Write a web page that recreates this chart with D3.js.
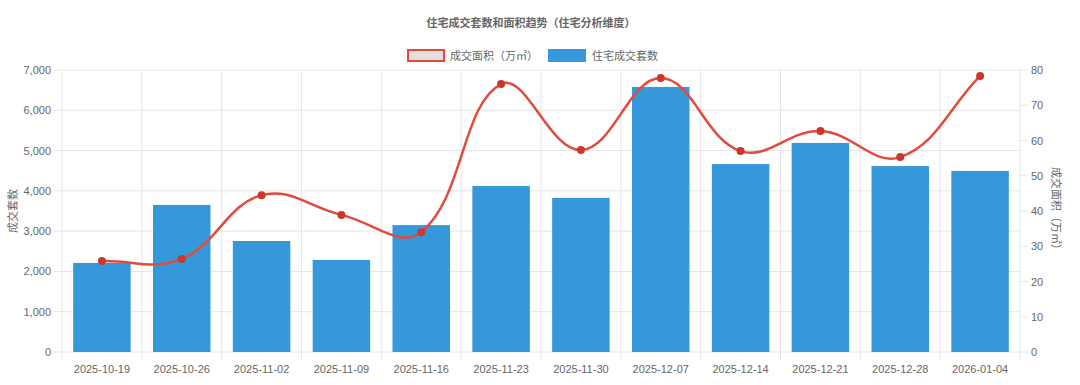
<!DOCTYPE html>
<html>
<head>
<meta charset="utf-8">
<script src="https://cdn.jsdelivr.net/npm/d3@7"></script>
<style>
  body { margin: 0; background: #fff; }
  text { font-family: "Liberation Sans", Arial, "Noto Sans CJK SC", sans-serif; }
</style>
</head>
<body>
<div id="chart"></div>
<script>
// data
let weeks = ["2025-10-19", "2025-10-26", "2025-11-02", "2025-11-09", "2025-11-16", "2025-11-23",
             "2025-11-30", "2025-12-07", "2025-12-14", "2025-12-21", "2025-12-28", "2026-01-04"];
let units = [2210, 3650, 2755, 2285, 3150, 4120, 3825, 6580, 4665, 5190, 4615, 4495];
let area = [25.8, 26.4, 44.5, 38.9, 34.0, 76.0, 57.3, 77.7, 57.0, 62.7, 55.3, 78.3];
let leftTicks = [0, 1000, 2000, 3000, 4000, 5000, 6000, 7000];
let rightTicks = [0, 10, 20, 30, 40, 50, 60, 70, 80];

let W = 1080, H = 385;
let pL = 62, pR = 1020, pT = 70, pB = 352;
let grid = "#e6e6e6", txt = "#666";

let svg = d3.select('#chart')
    .append('svg')
    .attr('width', W)
    .attr('height', H);

let x = d3.scaleBand().domain(weeks).range([pL, pR]);
let yL = d3.scaleLinear().domain([0, 7000]).range([pB, pT]);
let yR = d3.scaleLinear().domain([0, 80]).range([pB, pT]);

// title
svg.append('text')
    .attr('x', 531).attr('y', 27)
    .attr('text-anchor', 'middle')
    .style('font-size', '11px').style('font-weight', 'bold')
    .attr('fill', txt)
    .text('住宅成交套数和面积趋势（住宅分析维度）');

// legend
svg.append('rect').attr('x', 408).attr('y', 50).attr('width', 36).attr('height', 11)
    .attr('fill', '#e3dfdf').attr('stroke', '#e04b3b').attr('stroke-width', 2);
svg.append('text').attr('x', 450).attr('y', 59.5).style('font-size', '11px').attr('fill', txt)
    .text('成交面积（万㎡）');
svg.append('rect').attr('x', 548).attr('y', 49).attr('width', 38).attr('height', 13)
    .attr('fill', '#3498db');
svg.append('text').attr('x', 592).attr('y', 59.5).style('font-size', '11px').attr('fill', txt)
    .text('住宅成交套数');

// horizontal grid + left ticks
let gy = svg.append('g');
leftTicks.forEach(function (t) {
    gy.append('line')
        .attr('x1', pL - 8).attr('x2', pR)
        .attr('y1', yL(t)).attr('y2', yL(t))
        .attr('stroke', grid);
    gy.append('text')
        .attr('x', pL - 11).attr('y', yL(t) + 4)
        .attr('text-anchor', 'end')
        .style('font-size', '11px').attr('fill', txt)
        .text(d3.format(',')(t));
});

// vertical grid at category edges
let edges = weeks.map(function (w) { return x(w); }).concat([pR]);
edges.forEach(function (e) {
    svg.append('line')
        .attr('x1', e).attr('x2', e)
        .attr('y1', pT).attr('y2', pB + 8)
        .attr('stroke', grid);
});

// right axis ticks
rightTicks.forEach(function (t) {
    svg.append('line')
        .attr('x1', pR).attr('x2', pR + 8)
        .attr('y1', yR(t)).attr('y2', yR(t))
        .attr('stroke', grid);
    svg.append('text')
        .attr('x', pR + 11).attr('y', yR(t) + 4)
        .style('font-size', '11px').attr('fill', txt)
        .text(t);
});

// x labels
weeks.forEach(function (w) {
    svg.append('text')
        .attr('x', x(w) + x.bandwidth() / 2).attr('y', 373)
        .attr('text-anchor', 'middle')
        .style('font-size', '11px').attr('fill', txt)
        .text(w);
});

// axis titles
svg.append('text')
    .attr('transform', 'translate(17,' + (pT + pB) / 2 + ') rotate(-90)')
    .attr('text-anchor', 'middle')
    .style('font-size', '11px').attr('fill', txt)
    .text('成交套数');
svg.append('text')
    .attr('transform', 'translate(1052,' + (pT + pB) / 2 + ') rotate(90)')
    .attr('text-anchor', 'middle')
    .style('font-size', '11px').attr('fill', txt)
    .text('成交面积（万㎡）');

// bars
let bw = x.bandwidth() * 0.72;
units.forEach(function (d, i) {
    let cx = x(weeks[i]) + x.bandwidth() / 2;
    svg.append('rect')
        .attr('x', cx - bw / 2)
        .attr('y', yL(d))
        .attr('width', bw)
        .attr('height', pB - yL(d))
        .attr('fill', '#3498db');
});

// line (chart.js style spline, tension 0.4)
let pts = area.map(function (d, i) {
    return { x: x(weeks[i]) + x.bandwidth() / 2, y: yR(d) };
});
let ten = 0.4;
pts.forEach(function (p, i) {
    let p0 = pts[i - 1] || p, p2 = pts[Math.min(i + 1, pts.length - 1)];
    let d01 = Math.hypot(p.x - p0.x, p.y - p0.y);
    let d12 = Math.hypot(p2.x - p.x, p2.y - p.y);
    let s01 = d01 / (d01 + d12) || 0, s12 = d12 / (d01 + d12) || 0;
    let fa = ten * s01, fb = ten * s12;
    p.px = p.x - fa * (p2.x - p0.x);
    p.py = Math.max(pT, Math.min(pB, p.y - fa * (p2.y - p0.y)));
    p.nx = p.x + fb * (p2.x - p0.x);
    p.ny = Math.max(pT, Math.min(pB, p.y + fb * (p2.y - p0.y)));
});
let path = "M" + pts[0].x + "," + pts[0].y;
for (let i = 1; i < pts.length; i++) {
    path = path + "C" + pts[i - 1].nx + "," + pts[i - 1].ny + " " + pts[i].px + "," + pts[i].py + " " + pts[i].x + "," + pts[i].y;
}
svg.append('path')
    .attr('d', path)
    .style('fill', 'none')
    .style('stroke-width', '2.5')
    .attr('stroke', '#e04b3b');

pts.forEach(function (p) {
    svg.append('circle')
        .attr('cx', p.x).attr('cy', p.y)
        .attr('r', 4)
        .attr('fill', '#c9382b');
});
</script>
</body>
</html>
